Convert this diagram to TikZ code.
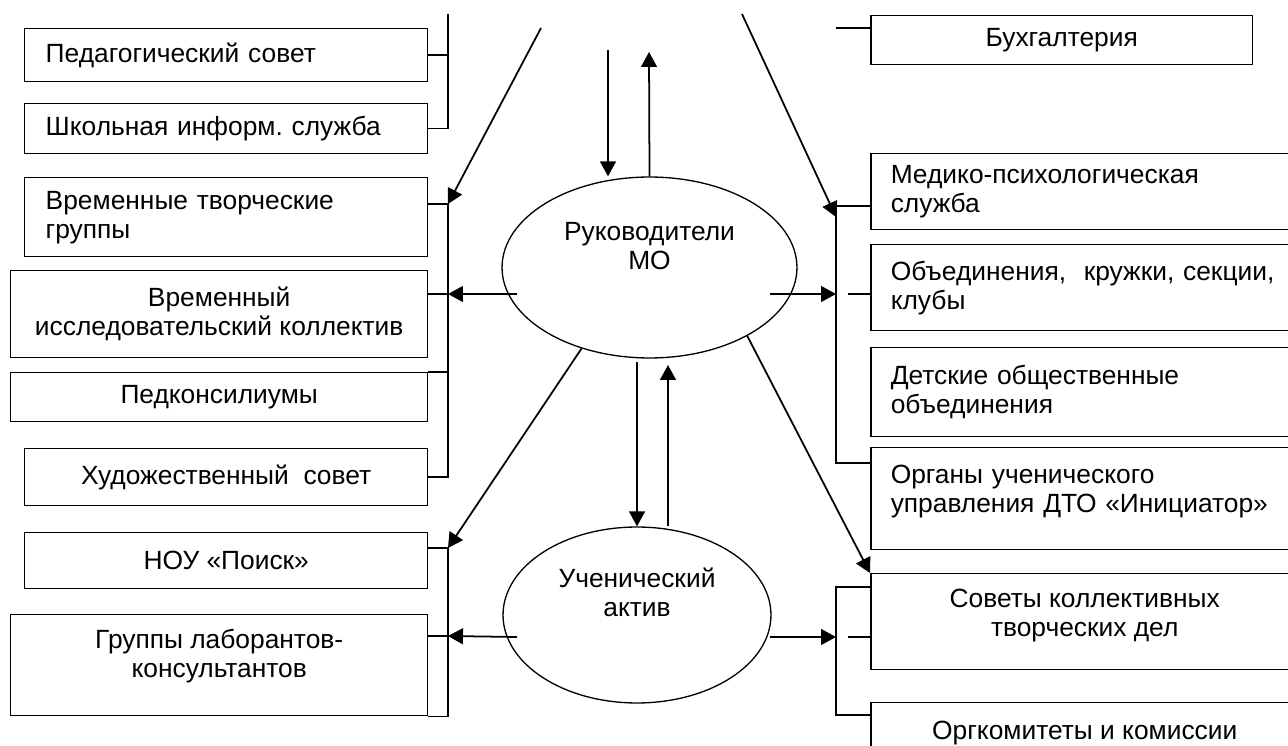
\documentclass[tikz,border=0pt]{standalone}
\usepackage{fontspec}
\setmainfont{Liberation Sans}
\usetikzlibrary{arrows.meta,shapes.geometric}

\newcommand{\orgfont}{\fontsize{15}{16.5}\selectfont}

\begin{document}
\begin{tikzpicture}[x=0.02cm,y=-0.02cm,>={Triangle[length=8.5pt,width=9pt]},line width=0.85pt]

            \tikzstyle{unit}=[draw=black,rectangle,anchor=north west,inner sep=0pt,align=center,font=\orgfont]
            \tikzstyle{unit left}=[unit,align=left,inner xsep=0.4cm]
            \tikzstyle{body}=[draw=black,ellipse,inner sep=0pt,align=center,font=\orgfont,line width=0.75pt]
            \tikzstyle{flow}=[->,line width=1pt]

            \useasboundingbox (0,0) rectangle (1288,746);
            \clip (0,0) rectangle (1288,746);

            % left column
            \node[unit left,text width=7.22cm,inner xsep=0.42cm,minimum height=1.06cm] (ped) at (24,28) {Педагогический совет};
            \node[unit left,text width=7.22cm,inner xsep=0.42cm,minimum height=1.0cm]  (inf) at (24,103) {Школьная информ.\ служба};
            \node[unit left,text width=7.22cm,inner xsep=0.42cm,minimum height=1.58cm] (vtg) at (24,177) {Временные творческие\\группы};
            \node[unit,minimum width=8.34cm,minimum height=1.74cm] (vik) at (10,270) {Временный\\исследовательский коллектив};
            \node[unit,minimum width=8.34cm,minimum height=0.98cm] (pks) at (10,372) {Педконсилиумы};
            \node[unit,minimum width=8.06cm,minimum height=1.14cm] (hs)  at (24,448) {Художественный\ \ совет};
            \node[unit,minimum width=8.06cm,minimum height=1.12cm] (nou) at (24,532) {НОУ «Поиск»};
            \node[unit,minimum width=8.34cm,minimum height=2.02cm,text depth=14pt] (grl) at (10,614) {Группы лаборантов-\\консультантов};

            % right column
            \node[unit,minimum width=7.64cm,minimum height=0.98cm] (buh) at (870,15) {Бухгалтерия};
            \node[unit left,text width=7.76cm,minimum height=1.52cm] (med) at (870,153) {Медико-психологическая\\служба};
            \node[unit left,text width=7.76cm,minimum height=1.72cm] (obj) at (870,244) {Объединения,\ \ кружки, секции,\\клубы};
            \node[unit left,text width=7.76cm,minimum height=1.78cm] (det) at (870,347) {Детские общественные\\объединения};
            \node[unit left,text width=7.76cm,minimum height=2.04cm,text depth=27.7pt] (org) at (870,447) {Органы ученического\\управления ДТО «Инициатор»};
            \node[unit,minimum width=8.56cm,minimum height=1.92cm,text depth=10pt] (sov) at (870,573) {Советы коллективных\\творческих дел};
            \node[unit,minimum width=8.56cm,minimum height=1.2cm] (okk) at (870,702) {Оргкомитеты и комиссии};

            % centre
            \node[body,minimum width=5.9cm,minimum height=3.62cm,text depth=25pt] (ruk) at (649.5,267.5) {Руководители\\МО};
            \node[body,minimum width=5.36cm,minimum height=3.52cm,text depth=26pt] (act) at (637,615) {Ученический\\актив};

            % left buses
            \coordinate (lA)  at (448,14);
            \coordinate (lB)  at (448,204);
            \coordinate (lBa) at (448,294);
            \coordinate (lC)  at (448,548);
            \coordinate (lCa) at (448,636);
            \draw (ped.east) -- (ped.east -| lA);
            \draw (lA) |- (inf.east);
            \draw (lB -| vtg.east) -- (lB) |- (hs.east);
            \draw (lBa -| vik.east) -- (lBa);
            \draw (pks.north east) -- (pks.north east -| lB);
            \draw (lC -| nou.east) -- (lC) |- (grl.south east);
            \draw (lCa -| grl.east) -- (lCa);

            % right buses
            \coordinate (rA)  at (836,28);
            \coordinate (rB)  at (836,206);
            \coordinate (rBa) at (836,217);
            \coordinate (rBb) at (836,294);
            \coordinate (rBs) at (848,294);
            \coordinate (rBc) at (836,463);
            \coordinate (rC)  at (836,587);
            \coordinate (rCa) at (836,637);
            \coordinate (rCs) at (848,637);
            \coordinate (rCd) at (836,715);
            \draw (rA) -- (rA -| buh.west);
            \draw (rB -| med.west) -- (rB) -- (rBc) -- (rBc -| org.west);
            \draw (rBs) -- (rBs -| obj.west);
            \draw (rC -| sov.west) -- (rC) -- (rCd) -- (rCd -| okk.west);
            \draw (rCs) -- (rCs -| sov.west);

            % arrows
            \coordinate (rukin)  at (608,50);
            \coordinate (rukout) at (649,52);
            \coordinate (dl)     at (541,28);
            \coordinate (dr)     at (742,14);
            \coordinate (rukL)   at (517,294);
            \coordinate (rukR)   at (770,294);
            \coordinate (actin)  at (637,362);
            \coordinate (actout) at (668,365);
            \coordinate (actL)   at (517,637);
            \coordinate (actR)   at (770,637);

            \draw[flow] (rukin) -- (rukin |- ruk.north);
            \draw[flow] (ruk.north) -- (rukout);
            \draw[flow] (dl) -- (lB);
            \draw[flow] (dr) -- (rBa);
            \draw[flow] (rukL) -- (lBa);
            \draw[flow] (rukR) -- (rBb);
            \draw[flow] (ruk.230) -- (lC);
            \draw[flow] (ruk.325) -- (sov.north west);
            \draw[flow] (actin) -- (act.north);
            \draw[flow] (act.north -| actout) -- (actout);
            \draw[flow] (actL) -- (lCa);
            \draw[flow] (actR) -- (rCa);
        \end{tikzpicture}
\end{document}
